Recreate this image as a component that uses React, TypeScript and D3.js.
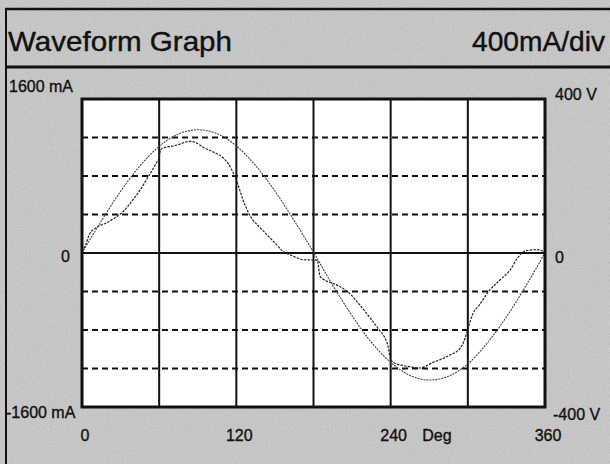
import React from "react";
import * as d3 from "d3";

// Phase angle in degrees and measured current (mA)
const currentAngles = [0, 3, 6, 12, 20, 26, 32, 40, 45, 50, 55, 58, 60, 61, 64, 70, 76, 80, 84, 88, 94, 102, 110, 115, 119, 121, 125, 131, 138, 146, 151, 156, 162, 168, 172, 183, 185, 190, 195, 202, 208, 216, 224, 230, 238, 240, 244, 250, 256, 263, 268, 273, 280, 286, 294, 298, 300, 304, 309, 317, 325, 333, 339, 343, 348, 354, 358, 360];
const currentValues = [15, 90, 200, 270, 320, 370, 430, 560, 650, 760, 870, 940, 990, 1070, 1095, 1110, 1130, 1150, 1160, 1150, 1100, 1050, 985, 900, 790, 720, 560, 380, 270, 160, 90, 20, -20, -55, -70, -75, -240, -290, -315, -360, -420, -540, -675, -780, -970, -1110, -1150, -1170, -1185, -1195, -1170, -1135, -1100, -1060, -990, -880, -790, -630, -540, -385, -280, -175, -45, 10, 30, 35, 20, 5];

// Phase angle in degrees and line voltage (V)
const voltageAngles = [0, 15, 30, 45, 60, 75, 90, 105, 120, 135, 150, 165, 180, 195, 210, 225, 240, 255, 270, 285, 300, 315, 330, 345, 360];
const voltageValues = [0, 83, 160, 226, 277, 309, 320, 310, 278, 227, 161, 84, 2, -84, -163, -232, -284, -318, -330, -320, -288, -234, -166, -86, 0];

const verticalGrid = [60, 120, 180, 240, 300];
const dashedLevels = [-1200, -800, -400, 400, 800, 1200];
const bottomTicks = [0, 120, 240, 360];
const leftLabels = ["1600 mA", "0", "-1600 mA"];
const rightLabels = ["400 V", "0", "-400 V"];

const W = 610;
const H = 464;
const FONT = "'Liberation Sans', Arial, Helvetica, sans-serif";

export default function App() {
  const x = d3.scaleLinear().domain([0, 360]).range([82, 545]);
  const yI = d3.scaleLinear().domain([-1600, 1600]).range([407, 99]);
  const yV = d3.scaleLinear().domain([-400, 400]).range([407, 99]);

  const currentLine = d3
    .line<number>()
    .x((_, i) => x(currentAngles[i]))
    .y((v) => yI(v))
    .curve(d3.curveMonotoneX);
  const voltageLine = d3
    .line<number>()
    .x((_, i) => x(voltageAngles[i]))
    .y((v) => yV(v))
    .curve(d3.curveCatmullRom);

  const [x0, x1] = x.range();
  const [yb, yt] = yI.range();

  const labelProps = {
    fontSize: 16,
    fill: "#111",
    stroke: "#111",
    strokeWidth: 0.35,
  };

  return (
    <svg
      width={W}
      height={H}
      style={{ position: "absolute", left: 0, top: 0, display: "block" }}
      fontFamily={FONT}
    >
      <defs>
        <filter id="grain" x="0" y="0" width="100%" height="100%">
          <feTurbulence type="fractalNoise" baseFrequency="0.95" numOctaves={1} seed={3} result="n" />
          <feColorMatrix
            in="n"
            type="matrix"
            values="0 0 0 0 0.35  0 0 0 0 0.35  0 0 0 0 0.35  0.9 0.9 0.9 0 -1.15"
          />
        </filter>
      </defs>
      <rect x={0} y={0} width={W} height={H} fill="#cacaca" />
      <rect x={0} y={0} width={W} height={H} filter="url(#grain)" opacity={0.5} />

      {/* panel frame */}
      <line x1={5} x2={W} y1={9} y2={9} stroke="#111" strokeWidth={2.5} />
      <line x1={6} x2={6} y1={8} y2={H} stroke="#111" strokeWidth={2} />
      <line x1={5} x2={W} y1={67} y2={67} stroke="#111" strokeWidth={3} />

      <text
        x={8}
        y={51}
        fontSize={28}
        fill="#111"
        stroke="#111"
        strokeWidth={0.4}
        textLength={224}
        lengthAdjust="spacingAndGlyphs"
      >
        Waveform Graph
      </text>
      <text
        x={472}
        y={51}
        fontSize={28}
        fill="#111"
        stroke="#111"
        strokeWidth={0.4}
        textLength={133}
        lengthAdjust="spacingAndGlyphs"
      >
        400mA/div
      </text>

      {/* plot area */}
      <rect x={x0} y={yt} width={x1 - x0} height={yb - yt} fill="#fff" />
      {dashedLevels.map((v) => (
        <line
          key={v}
          x1={x0}
          x2={x1}
          y1={yI(v)}
          y2={yI(v)}
          stroke="#111"
          strokeWidth={2}
          strokeDasharray="6 4"
        />
      ))}
      {verticalGrid.map((d) => (
        <line key={d} x1={x(d)} x2={x(d)} y1={yt} y2={yb} stroke="#111" strokeWidth={2} />
      ))}
      <line x1={x0} x2={x1} y1={yI(0)} y2={yI(0)} stroke="#111" strokeWidth={2} />

      <path
        d={voltageLine(voltageValues) || ""}
        fill="none"
        stroke="#444"
        strokeWidth={1.1}
        strokeDasharray="2 1"
      />
      <path
        d={currentLine(currentValues) || ""}
        fill="none"
        stroke="#222"
        strokeWidth={1.2}
        strokeDasharray="2.5 1.2"
      />

      <rect
        x={x0}
        y={yt}
        width={x1 - x0}
        height={yb - yt}
        fill="none"
        stroke="#111"
        strokeWidth={3}
      />

      {/* left (current) scale */}
      <text x={9} y={92} {...labelProps}>{leftLabels[0]}</text>
      <text x={61} y={262} {...labelProps}>{leftLabels[1]}</text>
      <text x={6} y={418} {...labelProps}>{leftLabels[2]}</text>

      {/* right (voltage) scale */}
      <text x={555} y={100} {...labelProps}>{rightLabels[0]}</text>
      <text x={555} y={263} {...labelProps}>{rightLabels[1]}</text>
      <text x={553} y={420} {...labelProps}>{rightLabels[2]}</text>

      {/* angle axis */}
      {bottomTicks.map((d) => (
        <text key={d} x={x(d) + 3} y={441} textAnchor="middle" {...labelProps}>
          {d}
        </text>
      ))}
      <text x={437} y={441} textAnchor="middle" {...labelProps}>
        Deg
      </text>
    </svg>
  );
}
